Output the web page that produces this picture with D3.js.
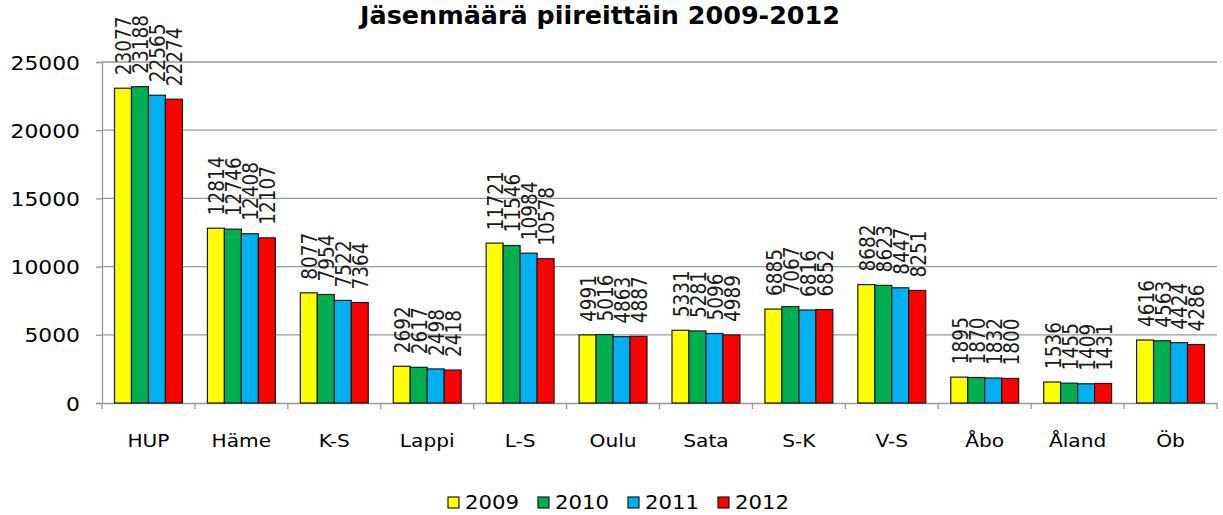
<!DOCTYPE html>
<html>
<head>
<meta charset="utf-8">
<script src="https://cdn.jsdelivr.net/npm/d3@7"></script>
<style>
  body { margin: 0; background: #fff; }
  text { font-family: "DejaVu Sans", Verdana, sans-serif; fill: #000; }
</style>
</head>
<body>
<div id="chart"></div>
<script>
// data
var districts = ["HUP", "Häme", "K-S", "Lappi", "L-S", "Oulu", "Sata", "S-K", "V-S", "Åbo", "Åland", "Öb"];
var years = ["2009", "2010", "2011", "2012"];
var values2009 = [23077, 12814, 8077, 2692, 11721, 4991, 5331, 6885, 8682, 1895, 1536, 4616];
var values2010 = [23188, 12746, 7954, 2617, 11546, 5016, 5281, 7067, 8623, 1870, 1455, 4563];
var values2011 = [22565, 12408, 7522, 2498, 10984, 4863, 5096, 6816, 8447, 1832, 1409, 4424];
var values2012 = [22274, 12107, 7364, 2418, 10578, 4887, 4989, 6852, 8251, 1800, 1431, 4286];
var yTicks = [0, 5000, 10000, 15000, 20000, 25000];
var colors = ["#FFFF00", "#00B050", "#00B0F0", "#FF0000"];
var title = "Jäsenmäärä piireittäin 2009-2012";

var series = [values2009, values2010, values2011, values2012];

// SVG area
var svgWidth = 1223;
var svgHeight = 515;
var margin = { top: 62, right: 6, bottom: 112, left: 102 };
var chartWidth = svgWidth - margin.left - margin.right;
var chartHeight = svgHeight - margin.top - margin.bottom;
var stretch = 1.12; // the original text is a bit wide

var svg = d3.select("#chart")
  .append("svg")
  .attr("width", svgWidth)
  .attr("height", svgHeight);

var chartGroup = svg.append("g")
  .attr("transform", "translate(" + margin.left + "," + margin.top + ")");

// scales
var xScale = d3.scaleBand().domain(districts).range([0, chartWidth]).padding(0);
var xInner = d3.scaleBand().domain(years).range([12.5, xScale.bandwidth() - 12.5]).padding(0);
var yScale = d3.scaleLinear().domain([0, 25000]).range([chartHeight, 0]);

// gridlines
chartGroup.append("g")
  .selectAll("line")
  .data(yTicks.slice(1))
  .enter()
  .append("line")
  .attr("x1", 0)
  .attr("x2", chartWidth)
  .attr("y1", function (d) { return yScale(d); })
  .attr("y2", function (d) { return yScale(d); })
  .attr("stroke", "#9a9a9a")
  .attr("stroke-width", 1.3);

// left axis
var leftAxis = d3.axisLeft(yScale).tickValues(yTicks).tickSize(6).tickFormat(d3.format("d"));
var yAxisG = chartGroup.append("g").call(leftAxis);
yAxisG.select(".domain").attr("stroke", "#9a9a9a").attr("stroke-width", 1.3);
yAxisG.selectAll(".tick line").attr("stroke", "#9a9a9a").attr("stroke-width", 1.3);
yAxisG.selectAll(".tick text")
  .attr("x", -22 / stretch)
  .attr("dy", "0.36em")
  .attr("transform", "scale(" + stretch + ",1)")
  .style("font-family", "DejaVu Sans")
  .style("font-size", "19.5px");

// bottom axis: ticks at category boundaries
var bottomAxis = d3.axisBottom(xScale).tickSize(0).tickFormat("");
var xAxisG = chartGroup.append("g")
  .attr("transform", "translate(0," + chartHeight + ")")
  .call(bottomAxis);
xAxisG.select(".domain").attr("stroke", "#9a9a9a").attr("stroke-width", 1.3);
xAxisG.selectAll(".tick").remove();

var bounds = districts.map(function (d) { return xScale(d); }).concat([chartWidth]);
xAxisG.selectAll(".sep")
  .data(bounds)
  .enter()
  .append("line")
  .attr("class", "sep")
  .attr("x1", function (d) { return d; })
  .attr("x2", function (d) { return d; })
  .attr("y1", 0)
  .attr("y2", 6)
  .attr("stroke", "#9a9a9a")
  .attr("stroke-width", 1.3);

xAxisG.selectAll(".cat")
  .data(districts)
  .enter()
  .append("text")
  .attr("class", "cat")
  .attr("text-anchor", "middle")
  .attr("transform", function (d) {
    return "translate(" + (xScale(d) + xScale.bandwidth() / 2) + ",44) scale(" + stretch + ",1)";
  })
  .style("font-size", "18px")
  .text(function (d) { return d; });

// bars
var groups = chartGroup.selectAll(".district")
  .data(districts)
  .enter()
  .append("g")
  .attr("class", "district")
  .attr("transform", function (d) { return "translate(" + xScale(d) + ",0)"; });

groups.selectAll("rect")
  .data(function (d, i) {
    return years.map(function (yr, j) { return { year: yr, value: series[j][i], k: j }; });
  })
  .enter()
  .append("rect")
  .attr("x", function (d) { return xInner(d.year); })
  .attr("y", function (d) { return yScale(d.value); })
  .attr("width", xInner.bandwidth())
  .attr("height", function (d) { return chartHeight - yScale(d.value); })
  .attr("fill", function (d) { return colors[d.k]; })
  .attr("stroke", "#1a1a1a")
  .attr("stroke-width", 1.2);

// value labels, rotated
groups.selectAll(".val")
  .data(function (d, i) {
    return years.map(function (yr, j) { return { year: yr, value: series[j][i] }; });
  })
  .enter()
  .append("text")
  .attr("class", "val")
  .attr("transform", function (d) {
    var cx = xInner(d.year) + xInner.bandwidth() / 2 + 1;
    var cy = yScale(d.value) - 13;
    return "translate(" + cx + "," + cy + ") scale(" + stretch + ",1) rotate(-90)";
  })
  .attr("dy", "0.36em")
  .style("font-size", "18.5px")
  .style("fill", "#1a1a1a")
  .text(function (d) { return d.value; });

// title
svg.append("text")
  .attr("transform", "translate(600,24) scale(1.06,1)")
  .attr("text-anchor", "middle")
  .style("font-weight", "bold")
  .style("font-size", "24px")
  .text(title);

// legend
var legend = svg.append("g")
  .attr("transform", "translate(448,497)");

var item = legend.selectAll(".item")
  .data(years)
  .enter()
  .append("g")
  .attr("class", "item")
  .attr("transform", function (d, i) { return "translate(" + (i * 90) + ",0)"; });

item.append("rect")
  .attr("width", 11)
  .attr("height", 11)
  .attr("fill", function (d, i) { return colors[i]; })
  .attr("stroke", "#1a1a1a")
  .attr("stroke-width", 1.2);

item.append("text")
  .attr("transform", "translate(17,12) scale(" + stretch + ",1)")
  .style("font-size", "19px")
  .text(function (d) { return d; });
</script>
</body>
</html>
